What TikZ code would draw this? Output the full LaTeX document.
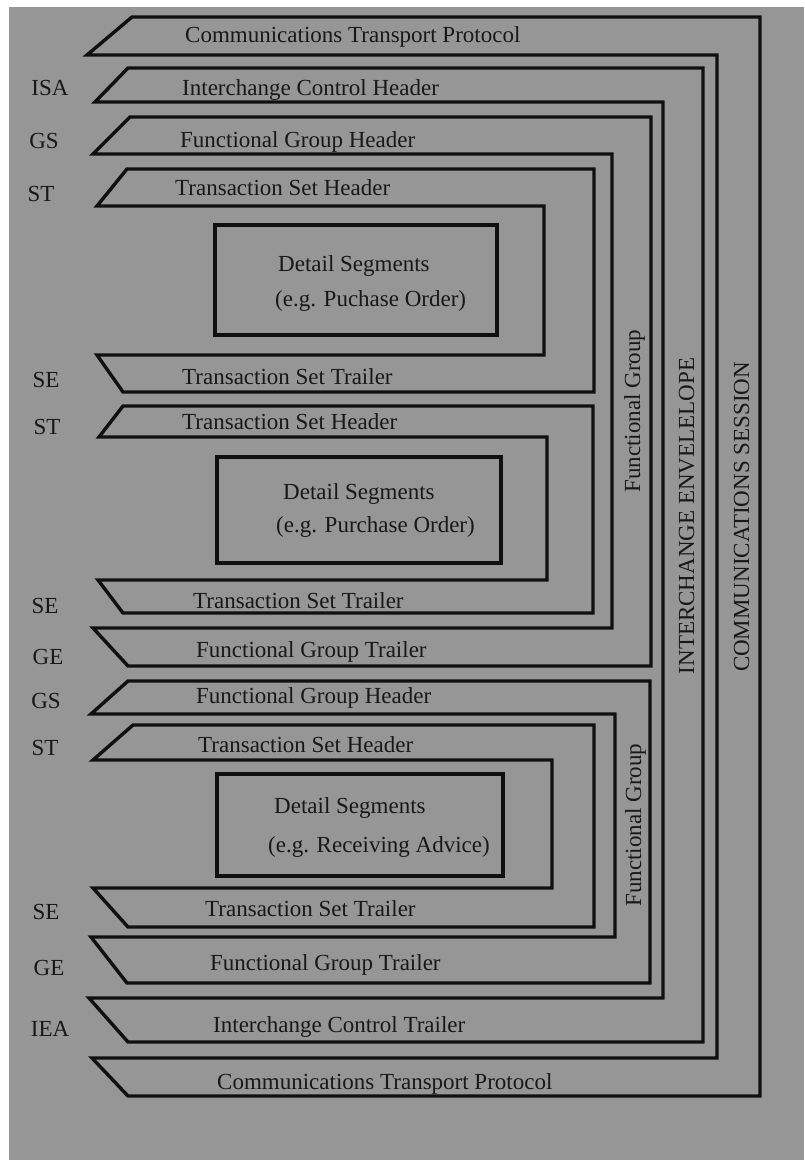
\documentclass[tikz,border=0pt]{standalone}
\usepackage{fontspec}
\setmainfont{Liberation Serif}
\definecolor{bggray}{RGB}{150,150,150}
\definecolor{ink}{RGB}{16,16,16}
\definecolor{txt}{RGB}{24,24,24}
\begin{document}
\begin{tikzpicture}[x=1pt,y=-1pt,
  band/.style={draw=ink,line width=3.4pt,line join=miter},
  dbox/.style={draw=ink,line width=3.4pt},
  lbl/.style={text=txt,inner sep=0pt,font=\fontsize{23}{27}\selectfont,text height=16pt,text depth=0pt},
  lw/.style={lbl,anchor=west},
  vlbl/.style={lbl,anchor=center,rotate=90}]
\useasboundingbox (0,0) rectangle (804,1160);
\fill[white] (0,0) rectangle (804,1160);
\fill[bggray] (9,7) rectangle (804,1160);

% Communications session band
\draw[band] (87,55) -- (132,17) -- (760,17) -- (760,1096) -- (128,1096) -- (92,1058) -- (717,1058) -- (717,55) -- cycle;
% Interchange envelope band
\draw[band] (95,102) -- (128,68) -- (703,68) -- (703,1042) -- (128,1042) -- (89,998) -- (663,998) -- (663,102) -- cycle;
% Functional group 1
\draw[band] (93,154) -- (130,117) -- (651,117) -- (651,666) -- (128,666) -- (93,628) -- (612,628) -- (612,154) -- cycle;
% Transaction set 1
\draw[band] (97,206) -- (127,169) -- (594,169) -- (594,392) -- (123,392) -- (97,355) -- (544,355) -- (544,206) -- cycle;
% Transaction set 2
\draw[band] (99,437) -- (123,406) -- (593,406) -- (593,613) -- (123,613) -- (98,580) -- (547,580) -- (547,437) -- cycle;
% Functional group 2
\draw[band] (91,714) -- (128,681) -- (650,681) -- (650,983) -- (127,983) -- (91,937) -- (615,937) -- (615,714) -- cycle;
% Transaction set 3
\draw[band] (93,760) -- (133,725) -- (594,725) -- (594,927) -- (128,927) -- (93,888) -- (552,888) -- (552,760) -- cycle;

% detail boxes
\draw[dbox] (215,225) rectangle (497,335);
\draw[dbox] (217,457) rectangle (501,563);
\draw[dbox] (217,774) rectangle (503,876);

% band texts
\node[lw] (cth) at (185,34) {Communications Transport Protocol};
\node[lw] (ich) at (182,87) {Interchange Control Header};
\node[lw] (fgh1) at (180,139) {Functional Group Header};
\node[lw] (tsh1) at (175,187) {Transaction Set Header};
\node[lw] (ds1a) at (278,263) {Detail Segments};
\node[lw] (ds1b) at (275,298) {(e.g. Puchase Order)};
\node[lw] (tst1) at (182,376) {Transaction Set Trailer};
\node[lw] (tsh2) at (182,421) {Transaction Set Header};
\node[lw] (ds2a) at (283,491) {Detail Segments};
\node[lw] (ds2b) at (276,524) {(e.g. Purchase Order)};
\node[lw] (tst2) at (193,600) {Transaction Set Trailer};
\node[lw] (fgt1) at (196,649) {Functional Group Trailer};
\node[lw] (fgh2) at (196,695) {Functional Group Header};
\node[lw] (tsh3) at (198,744) {Transaction Set Header};
\node[lw] (ds3a) at (274,805) {Detail Segments};
\node[lw] (ds3b) at (268,844) {(e.g. Receiving Advice)};
\node[lw] (tst3) at (205,908) {Transaction Set Trailer};
\node[lw] (fgt2) at (210,962) {Functional Group Trailer};
\node[lw] (ict) at (213,1024) {Interchange Control Trailer};
\node[lw] (ctt) at (217,1081) {Communications Transport Protocol};

% vertical texts
\node[vlbl] (fg1) at (632,411) {Functional Group};
\node[vlbl] (fg2) at (633,825) {Functional Group};
\node[vlbl] (ienv) at (686,516) {INTERCHANGE ENVELELOPE};
\node[vlbl] (csess) at (741,517) {COMMUNICATIONS SESSION};

% segment ids
\node[lbl] (isa) at (50,87) {ISA};
\node[lbl] (gs1) at (44,140) {GS};
\node[lbl] (st1) at (41,193) {ST};
\node[lbl] (se1) at (46,379) {SE};
\node[lbl] (st2) at (47,426) {ST};
\node[lbl] (se2) at (45,605) {SE};
\node[lbl] (ge1) at (48,656) {GE};
\node[lbl] (gs2) at (46,700) {GS};
\node[lbl] (st3) at (45,747) {ST};
\node[lbl] (se3) at (46,911) {SE};
\node[lbl] (ge2) at (49,967) {GE};
\node[lbl] (iea) at (50,1028) {IEA};
\end{tikzpicture}
\end{document}
